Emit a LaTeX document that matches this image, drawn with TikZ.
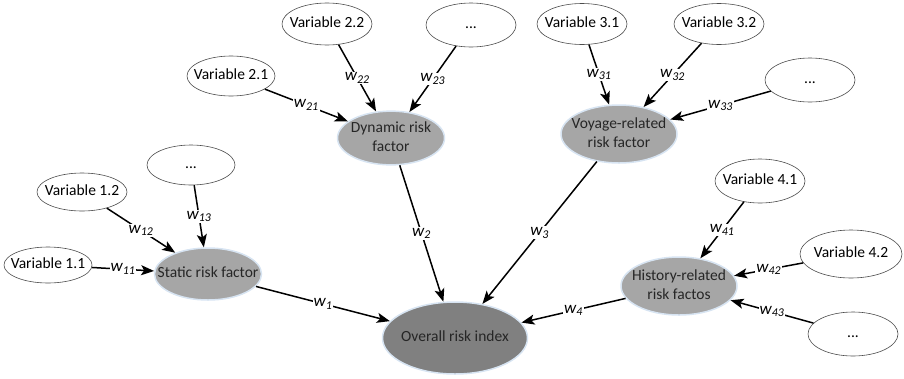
\documentclass[tikz,border=0pt]{standalone}
\usepackage{fontspec}
\setmainfont{Carlito}
\usetikzlibrary{shapes.geometric, arrows.meta, positioning}
\newcommand{\wt}[1]{\textit{w\textsubscript{#1}}}
\newcommand{\intext}[1]{\makebox[0pt]{\begin{tabular}{@{}c@{}}#1\end{tabular}}}

\begin{document}
\begin{tikzpicture}[x=1pt, y=-1pt, >={Stealth[length=13pt, width=10pt, inset=3pt]},
    font=\fontsize{15.5}{19}\selectfont,
    var/.style={ellipse, draw=black!70, line width=0.6pt, fill=white, inner sep=0pt, minimum width=90pt, minimum height=42pt},
    factor/.style={ellipse, fill=black!35, draw={rgb,255:red,215;green,228;blue,242}, line width=1.5pt, text=black!85, inner sep=0pt, minimum width=112pt, minimum height=56pt},
    link/.style={->, line width=1.5pt},
    wlab/.style={fill=white, inner sep=1pt, font=\fontsize{17}{17}\selectfont}]
    \useasboundingbox (0,0) rectangle (904,378);

    % risk factors and index
    \node[factor, minimum width=107pt, minimum height=52pt] (f1) at (208,274) {\intext{Static risk factor}};
    \node[factor, minimum width=107pt, minimum height=52pt] (f2) at (391,138) {\intext{Dynamic risk\\factor}};
    \node[factor, minimum width=116pt, minimum height=58pt] (f3) at (619,134) {\intext{Voyage-related\\risk factor}};
    \node[factor, minimum width=116pt, minimum height=58pt] (f4) at (679,286) {\intext{History-related\\risk factos}};
    \node[factor, fill=black!50, minimum width=145pt, minimum height=72pt] (idx) at (455,338) {\intext{Overall risk index}};

    % variables
    \node[var, minimum width=88pt, minimum height=36pt] (v11) at (48,265) {\intext{Variable 1.1}};
    \node[var, minimum height=38pt] (v12) at (82,192) {\intext{Variable 1.2}};
    \node[var, minimum width=88pt, minimum height=40pt] (v13) at (191,165) {\intext{...}};
    \node[var, minimum width=88pt, minimum height=40pt] (v21) at (231,76) {\intext{Variable 2.1}};
    \node[var] (v22) at (327,24) {\intext{Variable 2.2}};
    \node[var, minimum height=44pt] (v23) at (471,25) {\intext{...}};
    \node[var, minimum height=41pt] (v31) at (582,24) {\intext{Variable 3.1}};
    \node[var, minimum height=41pt] (v32) at (719,24) {\intext{Variable 3.2}};
    \node[var, minimum height=44pt] (v33) at (810,80) {\intext{...}};
    \node[var, minimum height=44pt] (v41) at (760,181) {\intext{Variable 4.1}};
    \node[var, minimum width=102pt, minimum height=48pt] (v42) at (851,254) {\intext{Variable 4.2}};
    \node[var, minimum height=44pt] (v43) at (853,334) {\intext{...}};

    \draw[link] (v11) -- node[wlab]{\wt{11}} (f1);
    \draw[link] (v12) -- node[wlab]{\wt{12}} (f1);
    \draw[link] (v13) -- node[wlab]{\wt{13}} (f1);
    \draw[link] (v21) -- node[wlab]{\wt{21}} (f2);
    \draw[link] (v22) -- node[wlab]{\wt{22}} (f2);
    \draw[link] (v23) -- node[wlab]{\wt{23}} (f2);
    \draw[link] (v31) -- node[wlab]{\wt{31}} (f3);
    \draw[link] (v32) -- node[wlab]{\wt{32}} (f3);
    \draw[link] (v33) -- node[wlab]{\wt{33}} (f3);
    \draw[link] (v41) -- node[wlab]{\wt{41}} (f4);
    \draw[link] (v42) -- node[wlab]{\wt{42}} (f4);
    \draw[link] (v43) -- node[wlab]{\wt{43}} (f4);

    \draw[link] (f1) -- node[wlab]{\wt{1}} (idx);
    \draw[link] (f2) -- node[wlab]{\wt{2}} (idx);
    \draw[link] (f3) -- node[wlab]{\wt{3}} (idx);
    \draw[link] (f4) -- node[wlab]{\wt{4}} (idx);
\end{tikzpicture}
\end{document}
